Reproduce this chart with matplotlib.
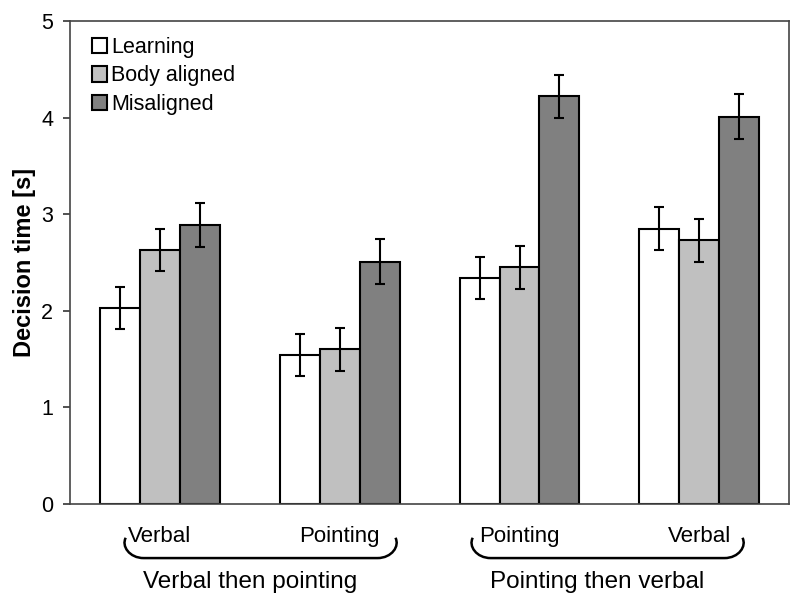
import matplotlib
matplotlib.use("Agg")
import matplotlib.pyplot as plt
import numpy as np
from matplotlib.path import Path
from matplotlib.patches import PathPatch
from matplotlib.transforms import blended_transform_factory

plt.rcParams['font.family'] = ['Liberation Sans', 'DejaVu Sans']

# données
conditions = ['Verbal', 'Pointing', 'Pointing', 'Verbal']
series = ['Learning', 'Body aligned', 'Misaligned']
learning = [2.03, 1.54, 2.34, 2.85]
body_aligned = [2.63, 1.60, 2.45, 2.73]
misaligned = [2.89, 2.51, 4.22, 4.01]
learning_err = [0.22, 0.22, 0.22, 0.22]
body_err = [0.22, 0.22, 0.22, 0.22]
mis_err = [0.23, 0.23, 0.22, 0.23]
groups = ['Verbal then pointing', 'Pointing then verbal']
brace_start = [-0.19, 1.74]
brace_end = [1.31, 3.24]

colors = ['white', '#c0c0c0', '#808080']
values = [learning, body_aligned, misaligned]
errors = [learning_err, body_err, mis_err]

fig = plt.figure(figsize=(8, 6.04), dpi=100)
ax = fig.add_axes([0.0875, 0.1656, 0.899, 0.7997])

x = np.arange(len(conditions))
w = 0.222
for i, (vals, errs) in enumerate(zip(values, errors)):
    ax.bar(x + (i - 1) * w, vals, w, color=colors[i], edgecolor='black',
           linewidth=1.5, label=series[i], zorder=2)
    ax.errorbar(x + (i - 1) * w, vals, yerr=errs, fmt='none', ecolor='black',
                elinewidth=1.5, capsize=3.5, capthick=1.5, zorder=3)

ax.set_xlim(-0.5, 3.5)
ax.set_ylim(0, 5)
ax.set_yticks([0, 1, 2, 3, 4, 5])
ax.set_xticks(x)
ax.set_xticklabels(conditions)
ax.tick_params(axis='x', length=0, pad=16, labelsize=16)
ax.tick_params(axis='y', length=5, width=1.2, pad=7, labelsize=15.5, colors='#333333',
               labelcolor='black')
for s in ax.spines.values():
    s.set_linewidth(1.2)
    s.set_color('#444444')

ax.set_ylabel('Decision time [s]', fontsize=17, fontweight='bold', labelpad=4)

leg = ax.legend(loc='upper left', bbox_to_anchor=(0.018, 0.985), frameon=False,
                fontsize=15.5, handlelength=0.72, handleheight=0.72,
                handletextpad=0.2, labelspacing=0.35, borderaxespad=0)

# accolades sous les groupes
trans = blended_transform_factory(ax.transData, ax.transAxes)
top, bot = -0.070, -0.112
for x0, x1, g in zip(brace_start, brace_end, groups):
    d = 0.1
    verts = [(x0, top), (x0 - 0.025, bot + 0.025), (x0 + 0.02, bot), (x0 + d, bot),
             (x1 - d, bot),
             (x1 - 0.02, bot), (x1 + 0.025, bot + 0.025), (x1, top)]
    codes = [Path.MOVETO, Path.CURVE4, Path.CURVE4, Path.CURVE4,
             Path.LINETO,
             Path.CURVE4, Path.CURVE4, Path.CURVE4]
    ax.add_patch(PathPatch(Path(verts, codes), transform=trans, fill=False,
                           lw=1.8, color='black', clip_on=False))
    ax.text((x0 + x1) / 2 - 0.06, -0.161, g, transform=trans, ha='center',
            va='center', fontsize=17.5)

fig.savefig('out.png', dpi=100)
